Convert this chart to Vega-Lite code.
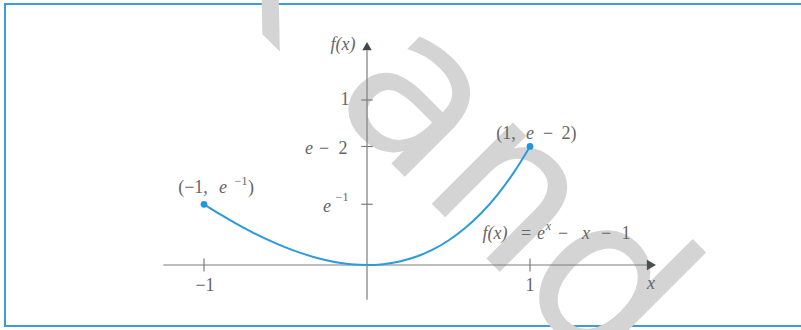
{
  "$schema": "https://vega.github.io/schema/vega-lite/v6.json",
  "autosize": "none",
  "width": 800,
  "height": 322,
  "padding": {"left": 5, "top": 4, "right": 0, "bottom": 4},
  "background": "#ffffff",
  "config": {
    "view": {"stroke": "#3d9ddb", "strokeWidth": 2},
    "text": {"font": "Liberation Serif", "color": "#666666"}
  },
  "datasets": {
    "watermark": [
      {"t": "black and", "x": -2.951, "y": 3.679}
    ],
    "axes": [
      {"x": -1.25, "y": 0, "x2": 1.72, "y2": 0},
      {"x": 0, "y": -0.21, "x2": 0, "y2": 1.3},
      {"x": -1, "y": -0.04, "x2": -1, "y2": 0.04},
      {"x": 1, "y": -0.04, "x2": 1, "y2": 0.04},
      {"x": -0.035, "y": 1, "x2": 0.035, "y2": 1},
      {"x": -0.035, "y": 0.7183, "x2": 0.035, "y2": 0.7183},
      {"x": -0.035, "y": 0.3679, "x2": 0.035, "y2": 0.3679}
    ],
    "arrowRight": [{"x": 1.745, "y": 0}],
    "arrowUp": [{"x": 0, "y": 1.327}],
    "curve": [
      {"x": -1.0, "y": 0.3679},
      {"x": -0.9, "y": 0.3066},
      {"x": -0.8, "y": 0.2493},
      {"x": -0.7, "y": 0.1966},
      {"x": -0.6, "y": 0.1488},
      {"x": -0.5, "y": 0.1065},
      {"x": -0.4, "y": 0.0703},
      {"x": -0.3, "y": 0.0408},
      {"x": -0.2, "y": 0.0187},
      {"x": -0.1, "y": 0.0048},
      {"x": 0.0, "y": 0.0},
      {"x": 0.1, "y": 0.0052},
      {"x": 0.2, "y": 0.0214},
      {"x": 0.3, "y": 0.0499},
      {"x": 0.4, "y": 0.0918},
      {"x": 0.5, "y": 0.1487},
      {"x": 0.6, "y": 0.2221},
      {"x": 0.7, "y": 0.3138},
      {"x": 0.8, "y": 0.4255},
      {"x": 0.9, "y": 0.5596},
      {"x": 1.0, "y": 0.7183}
    ],
    "ends": [
      {"x": -1, "y": 0.3679},
      {"x": 1, "y": 0.7183}
    ],
    "italicText": [
      {"t": "f(x)", "x": -0.1472, "y": 1.3333},
      {"t": "e", "x": -0.3558, "y": 0.703},
      {"t": "e", "x": -0.2454, "y": 0.3515},
      {"t": "e", "x": -0.8834, "y": 0.4667},
      {"t": "e", "x": 1.0, "y": 0.7939},
      {"t": "f(x)", "x": 0.7853, "y": 0.1879},
      {"t": "e", "x": 1.0675, "y": 0.1879},
      {"t": "x", "x": 1.3436, "y": 0.1879},
      {"t": "x", "x": 1.7423, "y": -0.1152}
    ],
    "italicSup": [
      {"t": "x", "x": 1.1135, "y": 0.2364}
    ],
    "romanText": [
      {"t": "1", "x": -0.135, "y": 1.0},
      {"t": "−", "x": -0.2638, "y": 0.703},
      {"t": "2", "x": -0.1472, "y": 0.703},
      {"t": "(−1,", "x": -1.0675, "y": 0.4667},
      {"t": ")", "x": -0.7117, "y": 0.4667},
      {"t": "(1,", "x": 0.8528, "y": 0.7939},
      {"t": "−", "x": 1.1104, "y": 0.7939},
      {"t": "2)", "x": 1.2393, "y": 0.7939},
      {"t": "=", "x": 0.9755, "y": 0.1879},
      {"t": "−", "x": 1.2025, "y": 0.1879},
      {"t": "−", "x": 1.4663, "y": 0.1879},
      {"t": "1", "x": 1.589, "y": 0.1879},
      {"t": "−1", "x": -0.9939, "y": -0.1273},
      {"t": "1", "x": 1.0, "y": -0.1273}
    ],
    "romanSup": [
      {"t": "−1", "x": -0.1534, "y": 0.4121},
      {"t": "−1", "x": -0.773, "y": 0.5091}
    ]
  },
  "layer": [
    {
      "data": {"name": "watermark"},
      "mark": {"type": "text", "font": "DejaVu Sans", "fontSize": 210, "angle": 45, "align": "left", "baseline": "alphabetic", "color": "#d4d4d4"},
      "encoding": {
        "x": {"field": "x", "type": "quantitative", "scale": {"domain": [-2.2209, 2.6871], "nice": false, "zero": false}, "axis": null},
        "y": {"field": "y", "type": "quantitative", "scale": {"domain": [-0.3697, 1.5818], "nice": false, "zero": false}, "axis": null},
        "text": {"field": "t"}
      }
    },
    {
      "data": {"name": "axes"},
      "mark": {"type": "rule", "color": "#7d7d7d", "strokeWidth": 1.2},
      "encoding": {
        "x": {"field": "x", "type": "quantitative", "scale": {"domain": [-2.2209, 2.6871], "nice": false, "zero": false}, "axis": null},
        "y": {"field": "y", "type": "quantitative", "scale": {"domain": [-0.3697, 1.5818], "nice": false, "zero": false}, "axis": null},
        "x2": {"field": "x2"},
        "y2": {"field": "y2"}
      }
    },
    {
      "data": {"name": "arrowRight"},
      "mark": {"type": "point", "shape": "triangle-right", "filled": true, "size": 110, "color": "#4a4f52", "opacity": 1},
      "encoding": {
        "x": {"field": "x", "type": "quantitative", "scale": {"domain": [-2.2209, 2.6871], "nice": false, "zero": false}, "axis": null},
        "y": {"field": "y", "type": "quantitative", "scale": {"domain": [-0.3697, 1.5818], "nice": false, "zero": false}, "axis": null}
      }
    },
    {
      "data": {"name": "arrowUp"},
      "mark": {"type": "point", "shape": "triangle-up", "filled": true, "size": 90, "color": "#3f4a4a", "opacity": 1},
      "encoding": {
        "x": {"field": "x", "type": "quantitative", "scale": {"domain": [-2.2209, 2.6871], "nice": false, "zero": false}, "axis": null},
        "y": {"field": "y", "type": "quantitative", "scale": {"domain": [-0.3697, 1.5818], "nice": false, "zero": false}, "axis": null}
      }
    },
    {
      "data": {"name": "curve"},
      "mark": {"type": "line", "interpolate": "monotone", "color": "#2b9ade", "strokeWidth": 2},
      "encoding": {
        "x": {"field": "x", "type": "quantitative", "scale": {"domain": [-2.2209, 2.6871], "nice": false, "zero": false}, "axis": null},
        "y": {"field": "y", "type": "quantitative", "scale": {"domain": [-0.3697, 1.5818], "nice": false, "zero": false}, "axis": null}
      }
    },
    {
      "data": {"name": "ends"},
      "mark": {"type": "point", "filled": true, "size": 45, "color": "#2196e0", "opacity": 1},
      "encoding": {
        "x": {"field": "x", "type": "quantitative", "scale": {"domain": [-2.2209, 2.6871], "nice": false, "zero": false}, "axis": null},
        "y": {"field": "y", "type": "quantitative", "scale": {"domain": [-0.3697, 1.5818], "nice": false, "zero": false}, "axis": null}
      }
    },
    {
      "data": {"name": "italicText"},
      "mark": {"type": "text", "fontStyle": "italic", "fontSize": 18, "align": "center", "baseline": "middle"},
      "encoding": {
        "x": {"field": "x", "type": "quantitative", "scale": {"domain": [-2.2209, 2.6871], "nice": false, "zero": false}, "axis": null},
        "y": {"field": "y", "type": "quantitative", "scale": {"domain": [-0.3697, 1.5818], "nice": false, "zero": false}, "axis": null},
        "text": {"field": "t"}
      }
    },
    {
      "data": {"name": "italicSup"},
      "mark": {"type": "text", "fontStyle": "italic", "fontSize": 12, "align": "center", "baseline": "middle"},
      "encoding": {
        "x": {"field": "x", "type": "quantitative", "scale": {"domain": [-2.2209, 2.6871], "nice": false, "zero": false}, "axis": null},
        "y": {"field": "y", "type": "quantitative", "scale": {"domain": [-0.3697, 1.5818], "nice": false, "zero": false}, "axis": null},
        "text": {"field": "t"}
      }
    },
    {
      "data": {"name": "romanText"},
      "mark": {"type": "text", "fontSize": 18, "align": "center", "baseline": "middle"},
      "encoding": {
        "x": {"field": "x", "type": "quantitative", "scale": {"domain": [-2.2209, 2.6871], "nice": false, "zero": false}, "axis": null},
        "y": {"field": "y", "type": "quantitative", "scale": {"domain": [-0.3697, 1.5818], "nice": false, "zero": false}, "axis": null},
        "text": {"field": "t"}
      }
    },
    {
      "data": {"name": "romanSup"},
      "mark": {"type": "text", "fontSize": 12, "align": "center", "baseline": "middle"},
      "encoding": {
        "x": {"field": "x", "type": "quantitative", "scale": {"domain": [-2.2209, 2.6871], "nice": false, "zero": false}, "axis": null},
        "y": {"field": "y", "type": "quantitative", "scale": {"domain": [-0.3697, 1.5818], "nice": false, "zero": false}, "axis": null},
        "text": {"field": "t"}
      }
    }
  ]
}
